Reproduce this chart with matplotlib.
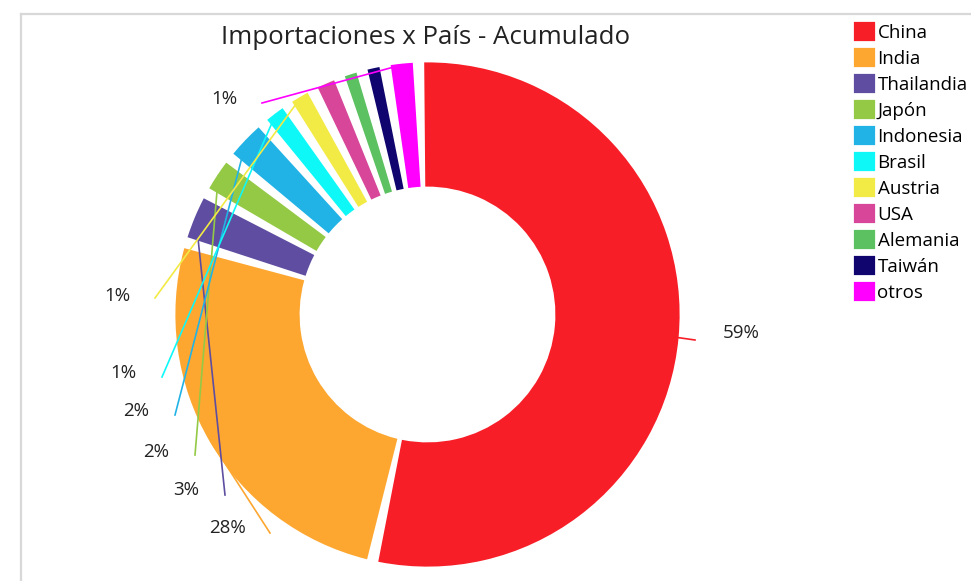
import matplotlib.pyplot as plt
import numpy as np

plt.rcParams['font.family'] = ['Open Sans', 'DejaVu Sans']

# Datos
paises = ['China', 'India', 'Thailandia', 'Japón', 'Indonesia', 'Brasil',
          'Austria', 'USA', 'Alemania', 'Taiwán', 'otros']
valores = [59, 28, 2.8, 2.0, 2.4, 1.2, 1.1, 1.1, 0.7, 0.7, 1.4]
colores = ['#F81E28', '#FDA731', '#5E4DA0', '#93C945', '#22B3E6', '#0FF8F8',
           '#F2EA45', '#D8469A', '#5CC160', '#10056E', '#FF00FF']
# paises que llevan etiqueta de porcentaje
con_etiqueta = ['China', 'India', 'Thailandia', 'Japón', 'Indonesia', 'Brasil',
                'Austria', 'otros']

W, H = 971, 581


def py(y):
    # pasar coordenada y de pixel (desde arriba) a coordenada del eje
    return H - y


fig = plt.figure(figsize=(W / 100, H / 100), dpi=100)
ax = fig.add_axes([0, 0, 1, 1])

# Hueco entre porciones (en grados), se dibuja como porcion invisible
hueco_grados = 3.1
total = sum(valores)
hueco = total * hueco_grados / (360 - hueco_grados * len(valores))
vals, cols = [], []
for v, c in zip(valores, colores):
    vals += [v, hueco]
    cols += [c, 'white']

cx, cy, R = 427.5, py(314.5), 251
cunas, _ = ax.pie(vals, colors=cols, startangle=90.5, counterclock=False,
                  radius=R, center=(cx, cy),
                  wedgeprops=dict(width=122, linewidth=1.6))
for w in cunas[1::2]:
    w.set_visible(False)
reales = cunas[0::2]
for w, c in zip(reales, colores):
    w.set_edgecolor(c)

# Lineas guia y etiquetas (fin de linea y texto en pixeles)
fin_linea = {'China': (695, 340), 'India': (270, 533), 'Thailandia': (225, 495),
             'Japón': (195, 455), 'Indonesia': (175, 415), 'Brasil': (162, 377),
             'Austria': (155, 298), 'otros': (262, 103)}
pos_texto = {'China': (741, 333), 'India': (227, 528), 'Thailandia': (186, 490),
             'Japón': (156, 452), 'Indonesia': (136, 411), 'Brasil': (123, 373),
             'Austria': (117, 296), 'otros': (224, 99)}

for nombre, w, v, c in zip(paises, reales, valores, colores):
    if nombre not in con_etiqueta:
        continue
    ang = np.deg2rad((w.theta1 + w.theta2) / 2)
    x0, y0 = cx + R * np.cos(ang), cy + R * np.sin(ang)
    x1, y1 = fin_linea[nombre]
    ax.plot([x0, x1], [y0, py(y1)], color=c, lw=1.2, zorder=3)
    tx, ty = pos_texto[nombre]
    ax.text(tx, py(ty), '%d%%' % round(v / total * 100), fontsize=13.5,
            ha='center', va='center', color='#222222')

ax.text(426, py(38), 'Importaciones x País - Acumulado', fontsize=18.6,
        ha='center', va='center', color='#222222')

ax.legend(reales, paises, loc='upper left', bbox_to_anchor=(855 / W, 1 - 23 / H),
          frameon=False, fontsize=13.5, handlelength=1.0, handleheight=1.0,
          handletextpad=0.2, labelspacing=0.385, borderpad=0, borderaxespad=0)

# borde gris
ax.plot([20.5, 20.5], [0, py(13.5)], color='#d8d8d8', lw=1.6, clip_on=False)
ax.plot([20.5, W], [py(13.5), py(13.5)], color='#d8d8d8', lw=1.6, clip_on=False)

ax.set_xlim(0, W)
ax.set_ylim(0, H)
ax.set_aspect('equal')
ax.axis('off')

plt.savefig('out.png', dpi=100)
